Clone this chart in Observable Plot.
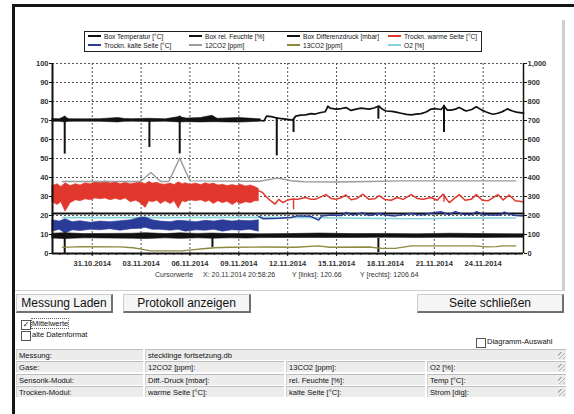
<!DOCTYPE html>
<html><head><meta charset="utf-8">
<script src="https://cdn.jsdelivr.net/npm/d3@7"></script>
<script src="https://cdn.jsdelivr.net/npm/@observablehq/plot@0.6"></script>
<style>
body{margin:0;width:574px;height:414px;background:#fff;position:relative;overflow:hidden;font-family:"Liberation Sans",Arial,sans-serif;color:#111}
.a{position:absolute}
.btn{position:absolute;top:294px;height:19px;background:#f5f5f5;border:1px solid #cdcdcd;border-right:2px solid #707070;border-bottom:2px solid #707070;font-size:12px;display:flex;align-items:center;justify-content:center;box-sizing:border-box;color:#111}
.cb{position:absolute;width:8px;height:8px;border:1px solid #555;background:#fff;font-size:8px;line-height:8px;text-align:center;font-family:"DejaVu Sans";font-weight:bold}
.cell{position:absolute;height:11px;background:#ececec;border-top:1px solid #bdbdbd;border-left:1px solid #d0d0d0;font-size:7.6px;line-height:11px;padding-left:2px;box-sizing:border-box;white-space:nowrap}
.grip{position:absolute;width:7px;height:7px;background:repeating-linear-gradient(135deg,transparent 0 2px,#b0b0b0 2px 3px)}
.lg{position:absolute;font-size:6.6px;white-space:nowrap;line-height:8px}
.lg i{display:inline-block;width:13px;height:2px;vertical-align:middle;margin-right:3px;position:relative;top:-1px}
</style></head><body>
<script>
// ---------- DATA (time = days since 28.10.2014 00:00) ----------
const xTickLabels = ["31.10.2014","03.11.2014","06.11.2014","09.11.2014","12.11.2014","15.11.2014","18.11.2014","21.11.2014","24.11.2014"];
const yTicksLeft = [0,10,20,30,40,50,60,70,80,90,100];
const yTickLabelsRight = ["0","100","200","300","400","500","600","700","800","900","1,000"];
const legendNames = ["Box Temperatur [°C]","Box rel. Feuchte [%]","Box Differenzdruck [mbar]","Trockn. warme Seite [°C]","Trockn. kalte Seite [°C]","12CO2 [ppm]","13CO2 [ppm]","O2 [%]"];
const legendColors = ["#111","#111","#111","#e2372c","#2a3b98","#9c9c9c","#8c8a3e","#86d3da"];
const timeDomain = [0.56, 29.48];

// Box rel. Feuchte: noisy envelope [day, lo, hi], then smooth line [day, value]
const feuchteNoise = [[0.56,69.3,70.8],[1.0,69.3,70.7],[1.31,69.0,71.8],[1.6,69.3,70.7],[2.5,69.4,70.6],[3.5,69.3,70.7],[4.6,69.0,71.3],[5.0,69.3,70.8],[5.5,69.4,70.7],[6.5,69.2,70.9],[7.5,69.4,70.6],[8.37,69.0,71.8],[8.8,69.1,71.0],[9.67,69.0,71.3],[10.38,69.1,72.5],[10.7,69.1,70.9],[11.3,69.0,71.1],[12.0,68.9,71.3],[12.6,69.1,71.0],[13.35,69.4,70.6]];
const feuchteLine = [[13.35,70.0],[13.55,69.8],[13.7,72.3],[14.0,72.0],[14.33,71.3],[14.6,71.0],[15.0,70.6],[15.3,70.2],[15.5,72.3],[15.8,72.8],[16.1,73.0],[16.43,73.6],[16.7,73.4],[17.04,74.2],[17.3,74.6],[17.47,77.5],[17.6,76.5],[17.96,76.0],[18.3,76.3],[18.58,76.8],[18.89,75.3],[19.2,76.0],[19.5,76.5],[19.99,76.0],[20.3,76.6],[20.61,77.6],[20.8,76.0],[21.04,75.0],[21.4,74.8],[21.65,74.4],[21.96,73.8],[22.3,73.2],[22.58,73.0],[22.9,73.4],[23.19,73.6],[23.5,74.5],[23.81,76.0],[24.1,76.2],[24.42,75.8],[24.6,77.6],[24.8,75.5],[25.04,75.5],[25.3,76.0],[25.53,76.8],[25.8,75.6],[25.96,75.0],[26.3,75.8],[26.58,77.2],[26.9,75.6],[27.19,74.5],[27.4,73.8],[27.62,73.3],[27.9,73.8],[28.11,74.4],[28.3,75.2],[28.48,76.1],[28.8,75.0],[29.05,74.4],[29.48,73.9]];
const feuchteSpikes = [[1.31,72.2,52.3],[6.51,70.5,55.8],[8.37,72.3,52.4],[14.33,71.5,51.4],[15.36,70.5,63.7],[20.57,77.5,70.7],[24.6,78.0,63.7]];

// Box Temperatur (flat)
const temperatur = [[0.56,21.1],[29.48,21.1]];

// Box Differenzdruck: noisy envelope + spikes
const druckNoise = [[0.56,7.9,10.4],[1.3,7.6,10.7],[2.5,8.0,10.2],[4.0,7.9,10.3],[5.5,7.8,10.4],[6.3,7.6,10.7],[7.5,8.0,10.2],[8.4,7.7,10.6],[9.5,8.0,10.3],[10.4,7.8,10.5],[11.5,8.0,10.2],[12.5,7.9,10.3],[13.3,8.1,10.1],[15.0,8.2,10.2],[17.0,8.2,10.5],[19.0,8.2,10.2],[21.0,8.3,10.3],[23.0,8.2,10.1],[25.0,8.3,10.4],[27.0,8.2,10.2],[29.48,8.3,10.1]];
const druckSpikes = [[1.31,8.0,0.0],[10.38,8.0,3.2],[20.57,8.0,0.5]];

// Trockn. warme Seite
const warmNoise = [[0.56,27,35.5],[0.87,25.5,36.5],[1.1,27,35],[1.36,22,37],[1.67,26.5,35.5],[2.0,28,36.5],[2.28,27.5,35.8],[2.6,28.5,37],[2.9,28,36.5],[3.2,29,37.5],[3.51,28.5,37],[3.8,29,38],[4.13,28,36.8],[4.45,28.8,37.5],[4.74,28,36.5],[5.05,29,37.2],[5.36,27,36.5],[5.7,27.8,37],[5.97,26.5,37.5],[6.28,24,36.5],[6.5,27.5,37.8],[6.71,27,36.8],[7.0,27.8,37.2],[7.2,26,36.5],[7.5,27.5,36.2],[7.82,26,36.8],[8.05,27.5,36],[8.31,23.5,37.5],[8.55,27.5,36.5],[8.74,27,37],[9.05,28,36.2],[9.36,27.5,36.8],[9.7,28,36],[9.97,27,37],[10.2,27.8,36.3],[10.46,26,36.8],[10.75,27.5,35.8],[11.02,26.5,36.2],[11.3,27.2,35.5],[11.63,25.5,36],[11.9,27,35.5],[12.12,26,36.2],[12.45,27,35.3],[12.74,26.5,35.8],[13.0,27.5,35],[13.23,27.5,34]];
const warmLine = [[13.23,33],[13.47,32],[13.72,29.5],[13.97,27.7],[14.22,26.0],[14.46,28.5],[14.71,26.8],[14.96,28],[15.2,28.6],[15.62,28.6],[16.11,29.5],[16.43,28.5],[16.73,28.6],[17.04,29.8],[17.35,31.0],[17.66,29],[17.96,28.6],[18.27,29.3],[18.58,30.8],[18.89,28.3],[19.26,29],[19.62,31.2],[19.99,28.5],[20.36,28.8],[20.61,30.5],[20.98,28.4],[21.35,28.0],[21.72,29.5],[22.09,28.5],[22.58,31.0],[22.95,29.0],[23.32,28.6],[23.81,29.5],[24.18,28.0],[24.53,31.2],[24.92,26.8],[25.16,28.5],[25.53,31.0],[25.9,28.0],[26.27,28.5],[26.58,31.0],[26.95,28.0],[27.32,27.8],[27.91,31.0],[28.23,28.2],[28.6,30.8],[28.97,27.8],[29.34,27.4],[29.48,27.3]];
const warmSpikes = [[15.36,29.0,23.0],[24.6,31.0,27.0]];

// Trockn. kalte Seite
const kaltNoise = [[0.56,11.5,17.5],[1.0,12.5,16.8],[1.36,10.5,18],[1.8,12.2,16.5],[2.28,11.8,17],[2.9,12.5,16.2],[3.51,12.2,16.8],[4.1,12.8,16.5],[4.74,12,17],[5.4,12.8,17.5],[5.97,13,18.8],[6.28,13.5,19],[6.71,12.5,17.5],[7.2,12.5,16.8],[7.82,12,16.5],[8.3,12.5,17.2],[8.74,11.5,17],[9.4,12.2,16.5],[9.97,12,17.2],[10.5,12.5,16.8],[11.02,11.5,17.5],[11.6,12.3,16.8],[12.12,12,17.2],[12.7,12.5,17],[13.23,11.5,17.5]];
const kaltLine = [[13.23,19.5],[13.5,18.3],[14.5,18.6],[15.2,19.0],[15.6,19.8],[16.4,19.6],[16.9,17.6],[17.1,19.8],[17.7,20.2],[18.3,20.0],[18.6,21.6],[19.0,20.2],[19.6,21.4],[20.0,20.0],[20.6,21.0],[21.0,20.3],[21.6,19.8],[22.1,20.5],[22.6,21.0],[23.2,20.2],[23.8,21.2],[24.4,22.0],[24.9,20.5],[25.3,22.0],[25.8,20.6],[26.3,20.5],[26.6,22.0],[27.0,20.5],[27.5,20.3],[28.0,20.2],[28.3,21.8],[28.6,20.8],[29.0,20.0],[29.48,19.8]];

// 12CO2 (left-axis units = ppm/10)
const co2_12 = [[1.17,37.9],[5.97,37.9],[6.6,42.6],[7.2,37.9],[7.7,37.9],[8.37,50.2],[9.0,38.2],[13.3,38.0],[13.9,39.0],[14.4,39.7],[15.2,38.3],[16,37.8],[18,37.6],[20,37.9],[22,38.2],[25,38.2],[29.0,38.2]];
// 13CO2
const co2_13 = [[1.17,3.2],[2.3,3.6],[4.7,3.5],[5.5,3.0],[6.0,2.3],[6.6,1.4],[8.5,1.4],[9.1,1.9],[9.8,2.5],[10.5,3.0],[11.5,3.3],[13.5,3.4],[15.5,3.3],[16.9,4.0],[17.6,3.3],[20.0,3.4],[20.8,2.7],[21.6,2.7],[22.6,4.0],[26.5,4.0],[27.2,3.5],[27.8,3.6],[28.2,4.0],[29.0,4.0]];
// O2
const o2 = [[1.17,18.9],[6,18.9],[13.5,19.0],[17,18.8],[20,18.5],[23,18.3],[26,18.6],[29.0,18.7]];

// ---------- RENDER ----------
const BASE = Date.UTC(2014, 9, 28);
const T = d => new Date(BASE + d * 864e5);
const parseTick = d3.utcParse("%d.%m.%Y");
const xTicks = xTickLabels.map(parseTick);
const minorTicks = d3.utcHour.every(12).range(T(timeDomain[0]), T(timeDomain[1]));
const [cBoxT, cBoxF, cBoxD, cWarm, cKalt, c12, c13, cO2] = legendColors;

const band = (data, color) => Plot.areaY(data, {x: d => T(d[0]), y1: d => d[1], y2: d => d[2], fill: color, stroke: color, strokeWidth: 0.6});
const line = (data, color, w) => Plot.line(data, {x: d => T(d[0]), y: d => d[1], stroke: color, strokeWidth: w});
const spikes = (data, color, w) => Plot.ruleX(data, {x: d => T(d[0]), y1: d => d[1], y2: d => d[2], stroke: color, strokeWidth: w});

const chart = Plot.plot({
  width: 547, height: 282,
  marginLeft: 36, marginRight: 40, marginTop: 55, marginBottom: 37,
  style: {fontFamily: "'Liberation Sans', Arial, sans-serif", fontSize: "7.5px", background: "transparent", overflow: "visible"},
  x: {type: "utc", domain: timeDomain.map(T)},
  y: {domain: [0, 100]},
  marks: [
    Plot.gridY(yTicksLeft, {stroke: "#555", strokeOpacity: 1, strokeDasharray: "2,2"}),
    Plot.gridX(xTicks, {stroke: "#555", strokeOpacity: 1, strokeDasharray: "2,2"}),
    band(feuchteNoise, cBoxF), line(feuchteLine, cBoxF, 1.7), spikes(feuchteSpikes, cBoxF, 2),
    band(warmNoise, cWarm), line(warmLine, cWarm, 1.5), spikes(warmSpikes, cWarm, 1.4),
    line(co2_12, c12, 1.4),
    line(temperatur, cBoxT, 2),
    line(o2, cO2, 1.6),
    band(kaltNoise, cKalt), line(kaltLine, cKalt, 1.5),
    band(druckNoise, cBoxD), spikes(druckSpikes, cBoxD, 2),
    line(co2_13, c13, 1.4),
    Plot.axisY(yTicksLeft, {anchor: "left", tickSize: 3, tickPadding: 1, fontWeight: "bold", fill: "#333"}),
    Plot.axisY(yTicksLeft, {anchor: "right", tickSize: 3, tickPadding: 1, fontWeight: "bold", fill: "#333", tickFormat: (d, i) => yTickLabelsRight[i]}),
    Plot.axisX(minorTicks, {tickSize: 2, tickFormat: () => ""}),
    Plot.axisX(xTicks, {tickSize: 3, tickPadding: 4, fontWeight: "bold", fill: "#333", tickFormat: (d, i) => xTickLabels[i]}),
    Plot.ruleY([0], {stroke: "#111", strokeWidth: 2}),
    Plot.ruleX([T(timeDomain[0])], {stroke: "#111", strokeWidth: 2}),
    Plot.ruleX([T(timeDomain[1])], {stroke: "#111", strokeWidth: 1.5})
  ]
});
chart.style.position = "absolute";
chart.style.left = "16px";
chart.style.top = "8px";

const add = (html) => document.body.insertAdjacentHTML("beforeend", html);
// window frame
add('<div class="a" style="left:12px;top:4px;width:562px;height:3px;background:#151515"></div>');
add('<div class="a" style="left:12px;top:4px;width:3px;height:410px;background:#151515"></div>');
add('<div class="a" style="left:562px;top:20px;width:3px;height:271px;background:#cfcfcf"></div>');
add('<div class="a" style="left:15px;top:290px;width:550px;height:1px;background:#cfcfcf"></div>');
document.body.appendChild(chart);

// legend
add('<div class="a" style="left:84px;top:31px;width:398px;height:21px;border:1px solid #222;background:#fff;box-sizing:border-box"></div>');
const colX = [88, 189, 287, 388];
legendNames.forEach((n, i) => {
  const c = i % 4, r = Math.floor(i / 4);
  add(`<div class="lg" style="left:${colX[c]}px;top:${33 + r * 9}px"><i style="background:${legendColors[i]}"></i>${n}</div>`);
});

// cursor values
const cursor = [["Cursorwerte",155],["X: 20.11.2014 20:58:26",203],["Y [links]: 120.66",292],["Y [rechts]: 1206.64",360]];
cursor.forEach(([t, x]) => add(`<div class="a" style="left:${x}px;top:271px;font-size:7px;color:#333;white-space:nowrap">${t}</div>`));

// buttons
const buttons = [["Messung Laden",16,97],["Protokoll anzeigen",123,128],["Seite schließen",417,147]];
buttons.forEach(([t, x, w]) => add(`<div class="btn" style="left:${x}px;width:${w}px">${t}</div>`));

// checkboxes
add('<div class="cb" style="left:21px;top:320px">✓</div><div class="a" style="left:32px;top:319px;font-size:7.5px;outline:1px dotted #666">Mittelwerte</div>');
add('<div class="cb" style="left:21px;top:331px"></div><div class="a" style="left:32px;top:330px;font-size:7.5px">alte Datenformat</div>');
add('<div class="cb" style="left:476px;top:338px"></div><div class="a" style="left:487px;top:337px;font-size:7.5px">Diagramm-Auswahl</div>');

// info table
const tableRows = [
  ["Messung:", "stecklinge fortsetzung.db"],
  ["Gase:", "12CO2 [ppm]:", "13CO2 [ppm]:", "O2 [%]:"],
  ["Sensorik-Modul:", "Diff.-Druck [mbar]:", "rel. Feuchte [%]:", "Temp [°C]:"],
  ["Trocken-Modul:", "warme Seite [°C]:", "kalte Seite [°C]:", "Strom [dig]:"]
];
const colLeft = [16, 145, 286, 427], colRight = [143, 284, 425, 566];
tableRows.forEach((row, r) => {
  const top = 349 + r * 12.3;
  row.forEach((txt, c) => {
    const left = colLeft[c];
    const right = (row.length === 2 && c === 1) ? 566 : colRight[c];
    add(`<div class="cell" style="left:${left}px;top:${top}px;width:${right - left}px">${txt}</div>`);
  });
  add(`<div class="grip" style="left:558px;top:${top + 3}px"></div>`);
});
</script>
</body></html>
